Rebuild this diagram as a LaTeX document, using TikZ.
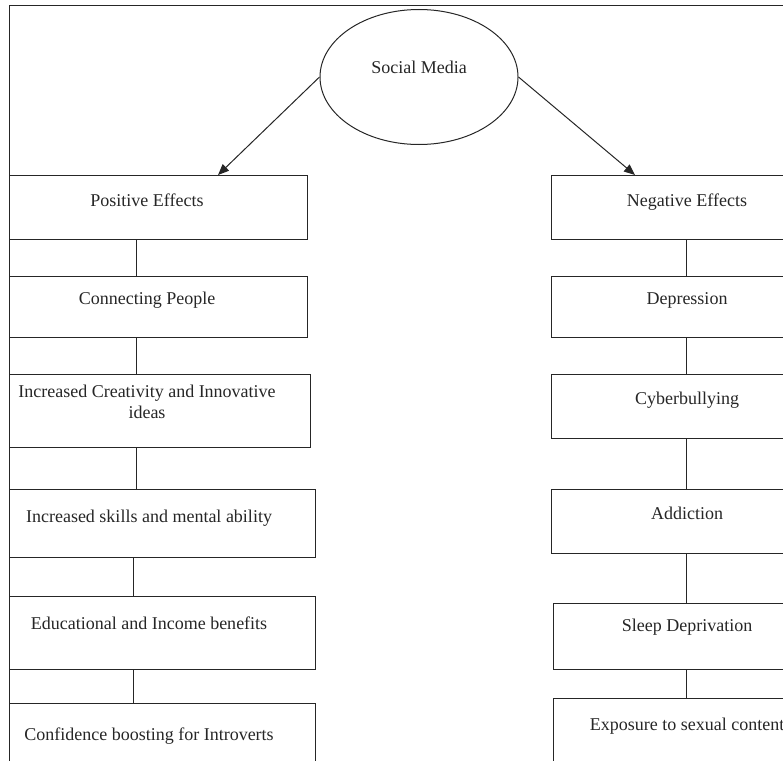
\documentclass[tikz,border=0pt]{standalone}
\usepackage{fontspec}
\setmainfont{Liberation Serif}
\usetikzlibrary{shapes.geometric,arrows.meta}

\begin{document}
\begin{tikzpicture}[x=1pt,y=-1pt,line width=1pt,color=black!85,-]
    \tikzstyle{effect}=[rectangle,draw,inner sep=0pt,anchor=north,align=center,font=\fontsize{18}{21.5}\selectfont]
    \tikzstyle{topic}=[ellipse,draw,inner sep=0pt,minimum width=198pt,minimum height=135pt,font=\fontsize{18}{21.5}\selectfont]
    \tikzstyle{link}=[-{Triangle[length=11pt,width=9pt]}]
    \useasboundingbox (0,0) rectangle (783,760);
    \clip (0,0) rectangle (783,760);
    \draw (9,6) rectangle (830,800);

    \node[topic,text height=12pt,text depth=20pt] (SM) at (419,77) {Social Media};

    % left column, cut at the frame
    \begin{scope}
        \clip (9,0) rectangle (783,760);
        \foreach \num/\x/\y/\w/\h/\d/\txt in {1/147/175/320/31/33/Positive Effects,
                2/147/276/320/28/33/Connecting People,
                3/147/374/326/44/29/{Increased Creativity and Innovative\\ideas},
                4/149/489/332/33/35/Increased skills and mental ability,
                5/149/596/332/33/40/Educational and Income benefits,
                6/149/703/332/37/70/Confidence boosting for Introverts}
            \node[effect,minimum width=\w pt,text height=\h pt,text depth=\d pt] (P-\num) at (\x,\y) {\txt};
    \end{scope}

    % right column
    \foreach \num/\y/\w/\h/\d/\txt in {1/175/272/31/33/Negative Effects,
            2/276/272/28/33/Depression,
            3/374/272/30/34/Cyberbullying,
            4/489/272/30/34/Addiction,
            5/603/268/28/38/Sleep Deprivation,
            6/698/268/32/70/Exposure to sexual content}
        \node[effect,minimum width=\w pt,text height=\h pt,text depth=\d pt] (N-\num) at (687,\y) {\txt};

    \foreach \from/\to/\x in {1/2/136, 2/3/136, 3/4/136, 4/5/133, 5/6/133}
        \draw (\x,0 |- P-\from.south) -- (\x,0 |- P-\to.north);
    \foreach \from/\to in {1/2, 2/3, 3/4, 4/5, 5/6}
        \draw (686,0 |- N-\from.south) -- (686,0 |- N-\to.north);

    \draw[link] (SM.west) -- (218,0 |- P-1.north);
    \draw[link] (SM.east) -- (635,0 |- N-1.north);
\end{tikzpicture}
\end{document}
